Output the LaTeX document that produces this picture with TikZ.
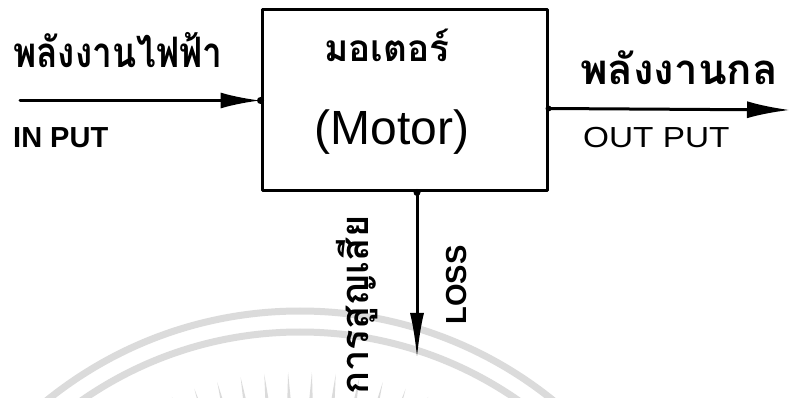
\documentclass[tikz,border=0pt]{standalone}
\usepackage{fontspec}
\usepackage{graphicx}
\setmainfont{Liberation Sans}
\newfontfamily\thaifont[Script=Thai]{Loma}
\usetikzlibrary{arrows.meta,calc}

\begin{document}
\begin{tikzpicture}[x=1pt,y=-1pt,line cap=round,line join=round,
  ink/.style={line width=3pt,draw=black},
  thai/.style={font=\thaifont\bfseries\fontsize{42}{46}\selectfont,inner sep=0pt},
  latin/.style={font=\bfseries\fontsize{29}{31}\selectfont,inner sep=0pt},
  seal/.style={draw=black!14,line width=7pt},
  joint/.style={fill=black}
]
\useasboundingbox (0,0) rectangle (796,398);

% faint seal printed behind the page
\begin{scope}
  \clip (0,0) rectangle (796,398);
  \coordinate (sealc) at (300,714);
  \draw[seal] (sealc) circle[radius=403];
  \draw[seal] (sealc) circle[radius=382];
  \foreach \a in {-112,-108,...,-68}
    \fill[black!14] ($(sealc)+(\a-0.5:300)$) -- ($(sealc)+(\a:342)$)
                    -- ($(sealc)+(\a+0.5:300)$) -- cycle;
\end{scope}

% the motor block
\node[draw,line width=3pt,minimum width=285pt,minimum height=181pt,inner sep=0pt]
  (motor) at (404.5,100.5) {};
\node[thai,font=\thaifont\bfseries\fontsize{37}{40}\selectfont,anchor=base] (motorth) at (387,62) {มอเตอร์};
\node[font=\fontsize{48}{52}\selectfont,inner sep=0pt] (motoren) at (392,132) {(Motor)};

% electrical energy in
\coordinate (insrc) at (20,100.5);
\draw[ink,-{Latex[length=40pt,width=16pt]}] (insrc) -- (motor.west);
\fill[joint] (motor.west) circle[radius=3.5pt];
\node[thai,anchor=base west] (inth) at (13,68) {\scalebox{0.84}[1]{พลังงานไฟฟ้า}};
\node[latin,anchor=west] (inen) at (13,138) {IN PUT};

% mechanical energy out
\coordinate (outdst) at (790,110);
\draw[ink,-{Latex[length=43pt,width=17pt]}] ([yshift=-8pt]motor.east) -- (outdst);
\fill[joint] ([yshift=-8pt]motor.east) circle[radius=3pt];
\node[thai,anchor=base west] (outth) at (580,85) {พลังงานกล};
\node[latin,font=\fontsize{29}{31}\selectfont,anchor=west] (outen) at (583,138) {\scalebox{1.15}[1]{OUT PUT}};

% losses
\coordinate (lossdst) at (417,358);
\draw[ink,-{Latex[length=45pt,width=14pt]}] (motor.south -| lossdst) -- (lossdst);
\fill[joint] (motor.south -| lossdst) circle[radius=3.5pt];
\node[latin,rotate=90] (lossen) at (457,285) {LOSS};
\node[thai,font=\thaifont\bfseries\fontsize{38}{42}\selectfont,rotate=90] (lossth) at (357,305) {การสูญเสีย};
\end{tikzpicture}
\end{document}
